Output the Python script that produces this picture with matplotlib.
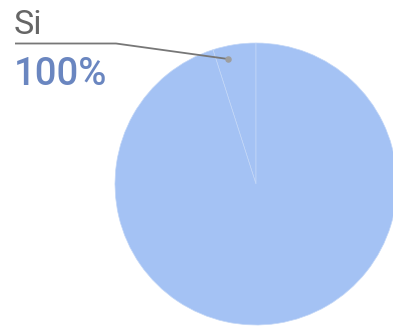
import matplotlib
matplotlib.use("Agg")
import matplotlib.pyplot as plt

# Slice data
categories = ["Si", ""]
values = [100, 1925]
slice_colors = ["#A4C2F4", "#A4C2F4"]
label_value_text = f"{values[0]}%"

W, H = 393, 326
fig = plt.figure(figsize=(W / 100, H / 100), dpi=100)
ax = fig.add_axes([0, 0, 1, 1])

cx, cy, r = 256, H - 184, 141
wedges, _ = ax.pie(
    values,
    colors=slice_colors,
    startangle=90,
    counterclock=True,
    center=(cx, cy),
    radius=r,
    wedgeprops=dict(edgecolor="#C3D7F7", linewidth=0.5),
)

ax.set_xlim(0, W)
ax.set_ylim(0, H)
ax.set_aspect("auto")
ax.axis("off")

# Leader line from the label to the "Si" slice
px, py = 228, H - 59
ax.plot([15, 116, px], [H - 43.5, H - 43.5, py], color="#777777", lw=1.3,
        solid_capstyle="butt", zorder=5)
ax.scatter([px], [py], s=22, color="#9E9E9E", zorder=6, linewidths=0)

ax.text(14, H - 34, categories[0], fontsize=24.5, family="Roboto",
        color="#666666", ha="left", va="baseline")
ax.text(14, H - 85, label_value_text, fontsize=27.5, family="Roboto",
        fontweight="medium", color="#6A86C0", ha="left", va="baseline")

fig.savefig("out.png", dpi=100)
